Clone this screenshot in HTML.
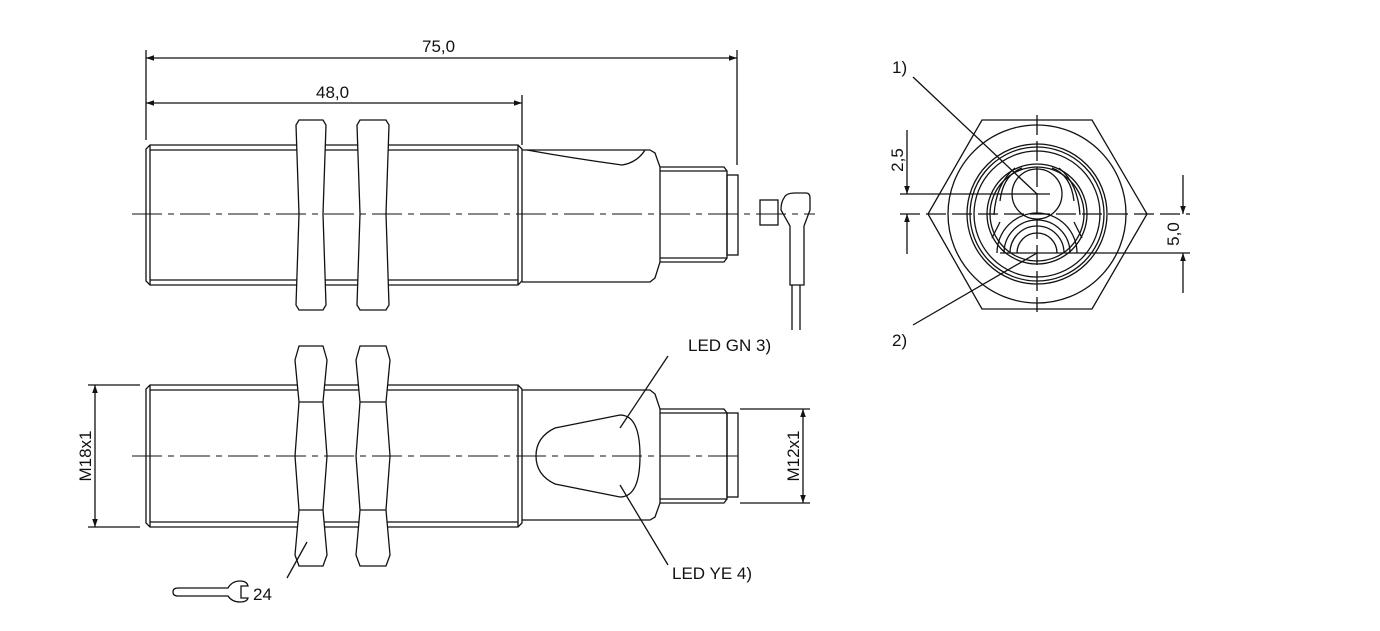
<!DOCTYPE html><html><head><meta charset="utf-8"><style>body{margin:0;background:#fff}svg{display:block}text{font-family:"Liberation Sans",sans-serif;font-size:17px;fill:#111}</style></head><body>
<svg width="1380" height="631" viewBox="0 0 1380 631" fill="none" stroke="#111" stroke-width="1.3">
<defs><marker id="a" viewBox="0 0 10 10" refX="10" refY="5" markerWidth="16" markerHeight="8" orient="auto-start-reverse" markerUnits="userSpaceOnUse"><path d="M0,1.5L10,5L0,8.5z" fill="#111" stroke="none"/></marker></defs>
<!-- top dims -->
<line x1="146" y1="50" x2="146" y2="140"/><line x1="522" y1="95" x2="522" y2="145"/><line x1="737" y1="50" x2="737" y2="165"/>
<line x1="146" y1="58" x2="737" y2="58" marker-start="url(#a)" marker-end="url(#a)"/>
<line x1="146" y1="103" x2="522" y2="103" marker-start="url(#a)" marker-end="url(#a)"/>
<text x="422" y="52" stroke="none">75,0</text><text x="316" y="98" stroke="none">48,0</text>
<!-- top view -->
<path d="M150,145H518L522,149V281L518,285H150L146,281V149Z"/><line x1="150" y1="150" x2="518" y2="150"/><line x1="150" y1="280" x2="518" y2="280"/><line x1="150" y1="145" x2="150" y2="285"/><line x1="518" y1="145" x2="518" y2="285"/>
<g fill="#fff"><path d="M299,120H323L326,125L323,214L326,305L323,310H299L296,305L299,214L296,125Z"/><path d="M360,120H386L389,125L386,214L389,305L386,310H360L357,305L360,214L357,125Z"/></g>
<path d="M522,150H650L655,153L660,167V262L655,278L650,282H522"/><path d="M527,150C560,156 600,162 622,165C635,163 642,155 645,150"/>
<path d="M660,167H724L727,171V258L724,262H660"/><line x1="660" y1="171" x2="727" y2="171"/><line x1="660" y1="258" x2="727" y2="258"/><rect x="727" y="175" width="11" height="80"/>
<rect x="760" y="200" width="18" height="25"/><path d="M784,198Q786,193 795,193H806Q810,193 810,198V210L804,226V285H790V226L781,210Q781,202 784,198Z"/><line x1="792" y1="285" x2="792" y2="330"/><line x1="800" y1="285" x2="800" y2="330"/>
<line x1="132" y1="214" x2="815" y2="214" stroke-dasharray="30,6,6,6" stroke-width="1"/>
<!-- bottom view -->
<path d="M150,385H518L522,389V523L518,527H150L146,523V389Z"/><line x1="150" y1="390" x2="518" y2="390"/><line x1="150" y1="522" x2="518" y2="522"/><line x1="150" y1="385" x2="150" y2="527"/><line x1="518" y1="385" x2="518" y2="527"/>
<g fill="#fff"><path d="M299,346H323L327,360L323,402L327,456L323,510L327,555L323,566H299L295,555L299,510L295,456L299,402L295,360Z"/><path d="M360,346H386L390,360L386,402L390,456L386,510L390,555L386,566H360L356,555L360,510L356,456L360,402L356,360Z"/></g>
<path d="M299,402H323M299,510H323M360,402H386M360,510H386"/>
<path d="M522,390H650L655,394L660,409V503L655,517L650,520H522"/>
<path d="M660,409H724L727,413V499L724,503H660"/><line x1="660" y1="413" x2="727" y2="413"/><line x1="660" y1="499" x2="727" y2="499"/><rect x="727" y="413" width="11" height="84"/>
<path d="M555,428L620,415Q640,415 640,456Q640,497 620,497L555,484Q536,475 536,456Q536,437 555,428Z"/>
<line x1="132" y1="456" x2="740" y2="456" stroke-dasharray="30,6,6,6" stroke-width="1"/>
<line x1="88" y1="385" x2="140" y2="385"/><line x1="88" y1="527" x2="140" y2="527"/><line x1="95" y1="385" x2="95" y2="527" marker-start="url(#a)" marker-end="url(#a)"/>
<line x1="740" y1="409" x2="810" y2="409"/><line x1="740" y1="503" x2="810" y2="503"/><line x1="803" y1="409" x2="803" y2="503" marker-start="url(#a)" marker-end="url(#a)"/>
<text transform="translate(91,456) rotate(-90)" text-anchor="middle" stroke="none">M18x1</text>
<text transform="translate(799,456) rotate(-90)" text-anchor="middle" stroke="none">M12x1</text>
<line x1="620" y1="428" x2="668" y2="356"/><line x1="620" y1="485" x2="668" y2="565"/><line x1="307" y1="542" x2="287" y2="578"/>
<text x="688" y="351" stroke="none">LED GN 3)</text><text x="672" y="579" stroke="none">LED YE 4)</text>
<path d="M178,588H228Q232,581 240,581Q247,581 248,586H241V598H248Q247,602 240,602Q232,602 228,596H178Q173,596 173,592Q173,588 178,588Z"/><text x="253" y="600" stroke="none">24</text>
<!-- end view -->
<path d="M982,120H1092L1147,214L1092,309H982L928,214Z"/>
<circle cx="1037" cy="214" r="89"/><circle cx="1037" cy="214" r="70"/><circle cx="1037" cy="214" r="67"/><circle cx="1037" cy="214" r="63"/><circle cx="1037" cy="214" r="50"/><circle cx="1037" cy="214" r="47"/>
<circle cx="1037" cy="194" r="25"/>
<path d="M1000,201Q1003,175 1022,168M1074,201Q1071,175 1052,168M994,215Q996,183 1015,168M1080,215Q1078,183 1059,168"/>
<path d="M992,238L1000,222M1082,238L1074,222"/>
<path d="M997,253A40,40 0 0 1 1077,253M1004,253A33,33 0 0 1 1070,253M1010,253A27,27 0 0 1 1064,253M1017,253A20,20 0 0 1 1057,253"/>
<line x1="1000" y1="253" x2="1190" y2="253"/>
<line x1="900" y1="194" x2="1050" y2="194"/><line x1="900" y1="214" x2="1190" y2="214" stroke-dasharray="20,6"/>
<line x1="1037" y1="115" x2="1037" y2="312" stroke-dasharray="20,6"/>
<line x1="907" y1="130" x2="907" y2="194" marker-end="url(#a)"/><line x1="907" y1="254" x2="907" y2="214" marker-end="url(#a)"/>
<line x1="1183" y1="175" x2="1183" y2="214" marker-end="url(#a)"/><line x1="1183" y1="293" x2="1183" y2="253" marker-end="url(#a)"/>
<text transform="translate(903,160) rotate(-90)" text-anchor="middle" stroke="none">2,5</text>
<text transform="translate(1179,234) rotate(-90)" text-anchor="middle" stroke="none">5,0</text>
<line x1="913" y1="77" x2="1037" y2="194"/><line x1="913" y1="325" x2="1037" y2="253"/>
<text x="892" y="73" stroke="none">1)</text><text x="892" y="346" stroke="none">2)</text>
</svg></body></html>
